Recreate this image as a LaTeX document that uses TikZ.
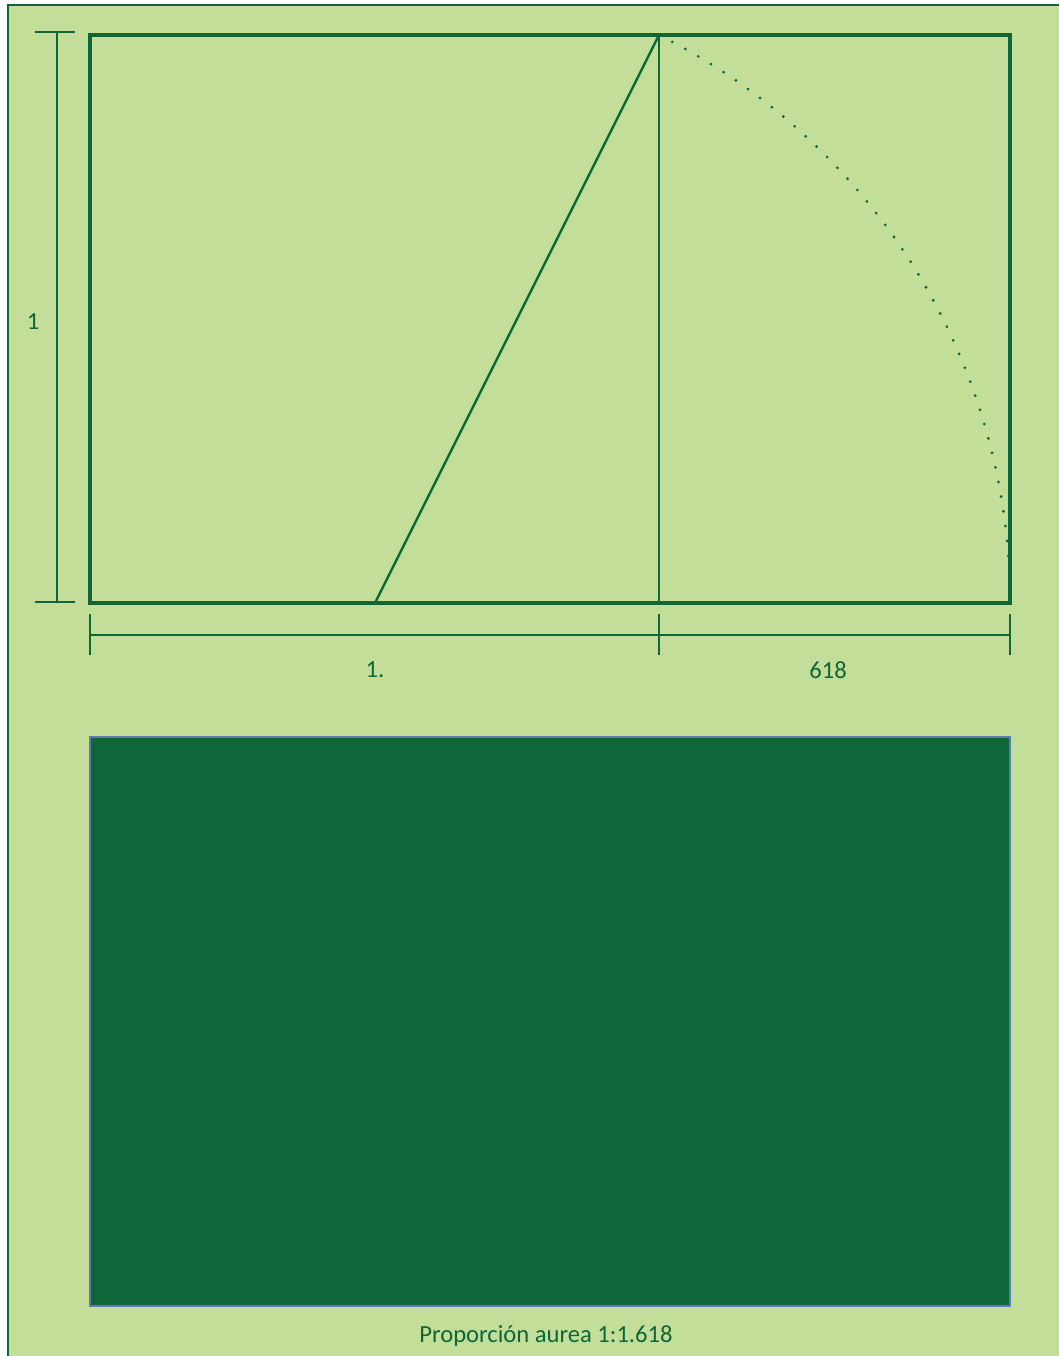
\documentclass[tikz,border=0pt]{standalone}
\usepackage{fontspec}
\setmainfont{Carlito}
\usepackage{tikz}
\usetikzlibrary{positioning}
\definecolor{leaf}{RGB}{195,222,152}
\definecolor{forest}{RGB}{14,102,57}
\definecolor{slate}{RGB}{91,123,181}
\tikzset{
  every node/.style={
    font=\fontsize{17.5}{20}\selectfont,
    text=forest
  },
  frameline/.style={
    draw=forest,
    line width=1.5pt
  },
  golden box/.style={
    draw=forest,
    line width=2.2pt
  },
  guide/.style={
    draw=forest,
    line width=1.6pt
  },
  dim line/.style={
    draw=forest,
    line width=1.5pt
  },
  swing/.style={
    draw=forest,
    line width=2.2pt,
    line cap=round,
    dash pattern=on 0pt off 10.6pt
  },
  solid panel/.style={
    fill=forest,
    draw=slate,
    line width=1.4pt
  }
}
\begin{document}
\begin{tikzpicture}[x=0.025cm,y=0.025cm]
    \useasboundingbox (0,0) rectangle (1059,1356);
    % page
    \fill[leaf] (8,0) rectangle (1059,1351);
    \draw[frameline] (8,0) -- (8,1351) -- (1059,1351);
    % golden rectangle
    \coordinate (ul) at (90,1321);
    \coordinate (lr) at (1010,753);
    \coordinate (cut top) at (659,1321);
    \coordinate (cut bottom) at (659,753);
    \coordinate (mid) at (375,753);
    \draw[golden box] (ul) rectangle (lr);
    \draw[guide] (cut top) -- (cut bottom);
    \draw[guide] (mid) -- (cut top);
    \draw[swing] (cut top) arc[start angle=63.43, end angle=0, radius=15.875cm];
    % height
    \coordinate (h top) at (57,1324);
    \coordinate (h bottom) at (57,754);
    \draw[dim line] (h top) -- (h bottom);
    \draw[dim line] ([xshift=-16]h top) -- ([xshift=13]h top);
    \draw[dim line] ([xshift=-16]h bottom) -- ([xshift=13]h bottom);
    \node (one) at (33,1034) {1};
    % widths
    \coordinate (w left) at (90,721);
    \coordinate (w cut) at (659,721);
    \coordinate (w right) at (1010,721);
    \draw[dim line] (w left) -- (w right);
    \foreach \t in {w left,w cut,w right}
      \draw[dim line] ([yshift=15]\t) -- ([yshift=-14]\t);
    \node (major) at (375,686) {1.};
    \node (minor) at (828,686) {618};
    % filled panel
    \draw[solid panel] (90,619) rectangle (1010,50);
    \node (caption) at (546,20) {Proporción aurea 1:1.618};
\end{tikzpicture}
\end{document}
